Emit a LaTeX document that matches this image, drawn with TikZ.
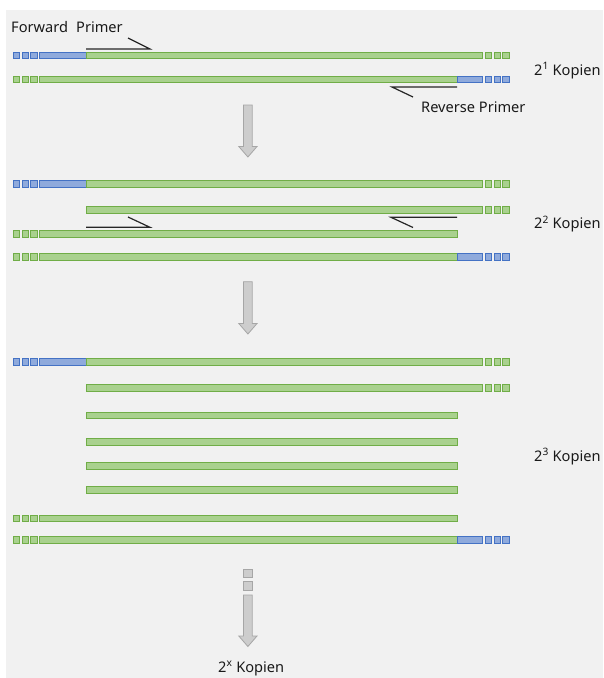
\documentclass[tikz,border=0pt]{standalone}
\usepackage{fontspec}
\setmainfont{Noto Sans}
\definecolor{bggray}{HTML}{F1F1F1}
\definecolor{strandgreen}{HTML}{A9D18E}
\definecolor{strandgreenedge}{HTML}{70AD47}
\definecolor{strandblue}{HTML}{8FAADC}
\definecolor{strandblueedge}{HTML}{4472C4}
\definecolor{arrowfill}{HTML}{CDCDCD}
\definecolor{arrowedge}{HTML}{A6A6A6}
\definecolor{primerink}{HTML}{262626}

\tikzset{
  greenpart/.style={fill=strandgreen, draw=strandgreenedge, line width=1pt},
  bluepart/.style={fill=strandblue, draw=strandblueedge, line width=1pt},
  primerline/.style={draw=primerink, line width=1.2pt},
  flowarrow/.style={fill=arrowfill, draw=arrowedge, line width=0.8pt},
  label/.style={font=\fontsize{14.6}{17}\selectfont, text=black!90, inner sep=0pt, anchor=base west},
}

% a bar section from x=#1 to x=#2 at height #3
\newcommand\barpart[4]{\draw[#4] (#1,#3-3.4) rectangle (#2,#3+3.4);}
% three small tail squares starting at x=#1 at height #2
\newcommand\tailsquares[3]{%
  \foreach \k in {0,1,2}{\draw[#3] ({#1+8.8*\k},#2-3.4) rectangle ++(6.2,6.8);}}

% strand kinds
\newcommand\templatefwd[1]{% blue 5' tail, green body, green squares
  \tailsquares{13.2}{#1}{bluepart}\barpart{39}{86}{#1}{bluepart}%
  \barpart{86}{482}{#1}{greenpart}\tailsquares{485.2}{#1}{greenpart}}
\newcommand\templaterev[1]{% green squares, green body, blue tail
  \tailsquares{13.2}{#1}{greenpart}\barpart{39}{457}{#1}{greenpart}%
  \barpart{457}{482}{#1}{bluepart}\tailsquares{485.2}{#1}{bluepart}}
\newcommand\longfwd[1]{\barpart{86}{482}{#1}{greenpart}\tailsquares{485.2}{#1}{greenpart}}
\newcommand\longrev[1]{\tailsquares{13.2}{#1}{greenpart}\barpart{39}{457}{#1}{greenpart}}
\newcommand\shortcopy[1]{\barpart{86}{457}{#1}{greenpart}}

% block arrow from top y=#1 to tip y=#2
\newcommand\flowdown[2]{\draw[flowarrow] (243.5,#1) -- (252.2,#1) -- (252.2,#2-10.5)
  -- (257,#2-10.5) -- (247.9,#2) -- (238.8,#2-10.5) -- (243.5,#2-10.5) -- cycle;}

\begin{document}
\begin{tikzpicture}[x=1pt,y=-1pt]
\useasboundingbox (0,0) rectangle (603,678);
\fill[white] (0,0) rectangle (603,678);
\fill[bggray] (6,10) rectangle (603,678);

% ---- first cycle
\templatefwd{55.5}
\templaterev{79.5}
\coordinate (fp1a) at (86,49); \coordinate (fp1b) at (150,49); \coordinate (fp1c) at (128,38);
\draw[primerline] (fp1a) -- (fp1b) -- (fp1c);
\coordinate (rp1a) at (457,87); \coordinate (rp1b) at (392,87); \coordinate (rp1c) at (413,97);
\draw[primerline] (rp1a) -- (rp1b) -- (rp1c);
\node[label] (fwdtxt) at (11,32) {Forward\hspace{0.3em} Primer};
\node[label] (revtxt) at (421,112) {Reverse Primer};
\node[label] (k1) at (534,75) {2\textsuperscript{1} Kopien};

\flowdown{105}{157}

% ---- second cycle
\templatefwd{184}
\longfwd{210.3}
\longrev{234.2}
\templaterev{256.7}
\coordinate (fp2a) at (86,227.3); \coordinate (fp2b) at (150,227.3); \coordinate (fp2c) at (128,217);
\draw[primerline] (fp2a) -- (fp2b) -- (fp2c);
\coordinate (rp2a) at (457,217.3); \coordinate (rp2b) at (391,217.3); \coordinate (rp2c) at (413,227.5);
\draw[primerline] (rp2a) -- (rp2b) -- (rp2c);
\node[label] (k2) at (534,228.5) {2\textsuperscript{2} Kopien};

\flowdown{281.7}{334}

% ---- third cycle
\templatefwd{362}
\longfwd{388.3}
\shortcopy{415.5}
\shortcopy{441.6}
\shortcopy{466}
\shortcopy{490}
\longrev{518.5}
\templaterev{540}
\node[label] (k3) at (534,461) {2\textsuperscript{3} Kopien};

% ---- further cycles
\draw[flowarrow] (243,569.5) rectangle (252.4,577.8);
\draw[flowarrow] (243,581.5) rectangle (252.4,590.5);
\flowdown{595}{646.5}
\node[label] (kx) at (218,672) {2\textsuperscript{x} Kopien};
\end{tikzpicture}
\end{document}
